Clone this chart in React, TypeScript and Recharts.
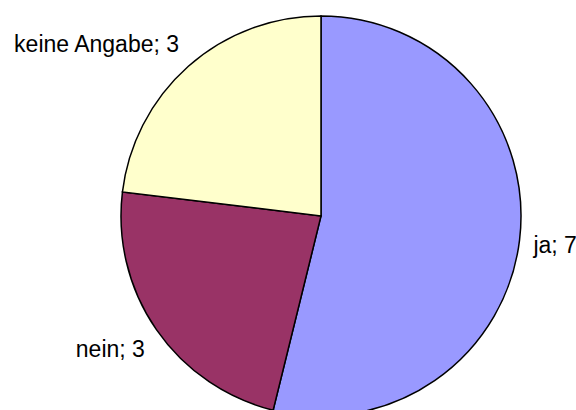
import React from "react";
import { PieChart, Pie, Cell } from "recharts";

const categories = ["ja", "nein", "keine Angabe"];
const values = [7, 3, 3];
const colors = ["#9999FF", "#993366", "#FFFFCC"];

const data = categories.map((name, i) => ({ name, value: values[i] }));

const RAD = Math.PI / 180;
const FONT_SIZE = 23;

const renderLabel = (props: any) => {
  const { cx, cy, midAngle, outerRadius, name, value } = props;
  const r = outerRadius + 14;
  const c = Math.cos(-midAngle * RAD);
  const s = Math.sin(-midAngle * RAD);
  const x = cx + r * c;
  const py = cy + r * s;
  const h = FONT_SIZE;
  const y = py + (h / 2) * Math.sign(s) * Math.min(1, Math.abs(s) * 2);
  const anchor = c >= 0 ? "start" : "end";
  return (
    <text
      x={x}
      y={y}
      textAnchor={anchor}
      dominantBaseline="central"
      fill="#000"
      fontFamily="Arial, 'Liberation Sans', sans-serif"
      fontSize={FONT_SIZE}
    >
      {`${name}; ${value}`}
    </text>
  );
};

export default function App() {
  return (
    <div style={{ position: "absolute", left: 0, top: 0, width: 576, height: 410, background: "#fff" }}>
      <PieChart width={576} height={410} margin={{ top: 0, right: 0, bottom: 0, left: 0 }}>
        <Pie
          data={data}
          dataKey="value"
          nameKey="name"
          cx={321}
          cy={216}
          outerRadius={200}
          startAngle={90}
          endAngle={-270}
          stroke="#000"
          strokeWidth={1.5}
          label={renderLabel}
          labelLine={false}
          isAnimationActive={false}
        >
          {data.map((d, i) => (
            <Cell key={d.name} fill={colors[i]} />
          ))}
        </Pie>
      </PieChart>
    </div>
  );
}
